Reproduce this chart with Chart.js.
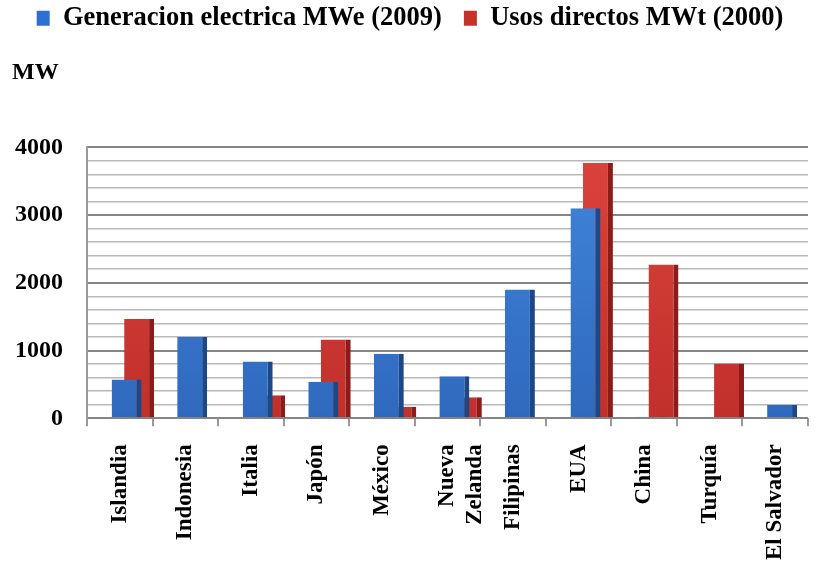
<!DOCTYPE html>
<html>
<head>
<meta charset="utf-8">
<script src="https://cdn.jsdelivr.net/npm/chart.js@4"></script>
<style>
  html, body { margin: 0; padding: 0; background: #fff; }
  #wrap { width: 824px; height: 562px; }
</style>
</head>
<body>
<div id="wrap"><canvas id="geoChart"></canvas></div>
<script>
const countries = ['Islandia', 'Indonesia', 'Italia', 'Japón', 'México', ['Nueva', 'Zelanda'],
    'Filipinas', 'EUA', 'China', 'Turquía', 'El Salvador'];
const electricMWe = [575, 1200, 840, 540, 955, 620, 1900, 3100, 25, 0, 195];
const directMWt = [1465, 0, 340, 1165, 170, 310, 0, 3770, 2270, 810, 0];
const yTicks = [0, 1000, 2000, 3000, 4000];

const serif = "'Liberation Serif', 'Times New Roman', serif";

function shade(top, bottom) {
    return function(context) {
        const area = context.chart.chartArea;
        if (!area) return top;
        const g = context.chart.ctx.createLinearGradient(0, area.top, 0, area.bottom);
        g.addColorStop(0, top);
        g.addColorStop(1, bottom);
        return g;
    };
}

// bars sit a little right of the label, like the 3D original
const depthShift = 0.2;

const ctx = document.getElementById('geoChart').getContext('2d');
new Chart(ctx, {
    type: 'bar',
    data: {
        labels: countries,
        datasets: [
            {
                label: 'Generacion electrica MWe (2009)',
                data: electricMWe.map((v, i) => ({ x: i, y: v })),
                xAxisID: 'xb',
                backgroundColor: shade('#4186dc', '#2f69bd'),
                borderColor: '#1d4785',
                borderWidth: { top: 0, right: 5, bottom: 0, left: 0 },
                borderSkipped: false,
                categoryPercentage: 0.381,
                barPercentage: 2.4
            },
            {
                label: 'Usos directos MWt (2000)',
                data: directMWt.map((v, i) => ({ x: i, y: v })),
                xAxisID: 'xb',
                backgroundColor: shade('#db433d', '#c1302b'),
                borderColor: '#8c1c19',
                borderWidth: { top: 0, right: 5, bottom: 0, left: 0 },
                borderSkipped: false,
                categoryPercentage: 0.381,
                barPercentage: 2.4
            }
        ]
    },
    options: {
        responsive: true,
        maintainAspectRatio: false,
        animation: false,
        layout: {
            padding: { top: -17, left: 12, right: 16, bottom: -16 }
        },
        plugins: {
            legend: {
                position: 'top',
                labels: {
                    boxWidth: 13,
                    boxHeight: 15,
                    padding: 22,
                    color: '#111',
                    font: { family: serif, size: 26.5, weight: 'bold' },
                    generateLabels: function(chart) {
                        const fills = ['#2f6fcf', '#c8302c'];
                        return chart.data.datasets.map((ds, i) => ({
                            text: ds.label,
                            fillStyle: fills[i],
                            strokeStyle: fills[i],
                            lineWidth: 0,
                            datasetIndex: i
                        }));
                    }
                }
            },
            title: {
                display: true,
                text: 'MW',
                align: 'start',
                weight: 500,
                color: '#000',
                font: { family: serif, size: 24, weight: 'bold' },
                padding: { top: 17, bottom: 60 }
            },
            tooltip: { enabled: false }
        },
        scales: {
            x: {
                type: 'category',
                offset: true,
                grid: {
                    offset: true,
                    drawOnChartArea: false,
                    drawTicks: true,
                    tickLength: 8,
                    color: '#9a9a9a',
                    lineWidth: 2
                },
                border: { display: false },
                ticks: {
                    autoSkip: false,
                    maxRotation: 90,
                    minRotation: 90,
                    padding: 18,
                    color: '#000',
                    font: { family: serif, size: 23, weight: 'bold' }
                }
            },
            xb: {
                type: 'linear',
                display: false,
                offset: false,
                min: -0.5 - depthShift,
                max: countries.length - 0.5 - depthShift,
                ticks: { stepSize: 1, includeBounds: false },
                grid: { display: false }
            },
            y: {
                min: yTicks[0],
                max: yTicks[yTicks.length - 1],
                afterFit: function(scale) {
                    scale.width = 75;
                },
                ticks: {
                    stepSize: 200,
                    autoSkip: false,
                    padding: 24,
                    color: '#000',
                    font: { family: serif, size: 24, weight: 'bold' },
                    callback: function(value) {
                        return yTicks.includes(value) ? value : '';
                    }
                },
                grid: {
                    drawTicks: false,
                    color: function(c) {
                        return yTicks.includes(c.tick.value) ? '#858585' : '#b8b8b8';
                    },
                    lineWidth: function(c) {
                        return yTicks.includes(c.tick.value) ? 2 : 1.6;
                    }
                },
                border: { display: true, color: '#9a9a9a', width: 2 }
            }
        }
    }
});
</script>
</body>
</html>
